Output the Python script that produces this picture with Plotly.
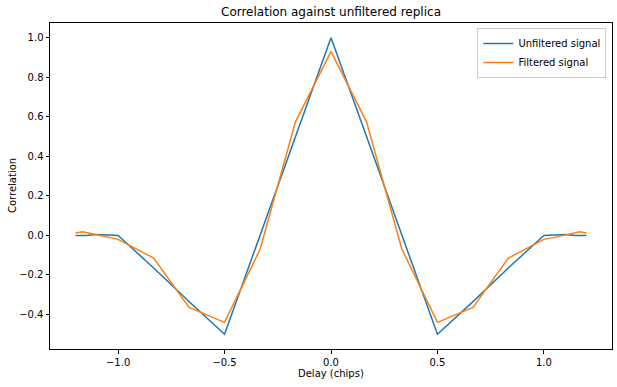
import plotly.graph_objects as go

# Delay grid (chips) and correlation values
delay_unf = [-1.2, -1.15, -1.1, -1.05, -1.0, -0.833, -0.667, -0.5, -0.333, -0.167, 0.0,
             0.167, 0.333, 0.5, 0.667, 0.833, 1.0, 1.05, 1.1, 1.15, 1.2]
corr_unf = [0.0, 0.0, 0.005, 0.003, 0.0, -0.165, -0.335, -0.5, 0.0, 0.5, 1.0,
            0.5, 0.0, -0.5, -0.335, -0.165, 0.0, 0.003, 0.005, 0.0, 0.0]

delay_filt = [-1.2, -1.167, -1.1, -1.05, -1.0, -0.833, -0.667, -0.5, -0.333, -0.167, 0.0,
              0.167, 0.333, 0.5, 0.667, 0.833, 1.0, 1.05, 1.1, 1.167, 1.2]
corr_filt = [0.012, 0.018, 0.003, -0.01, -0.02, -0.115, -0.365, -0.44, -0.07, 0.575, 0.93,
             0.575, -0.07, -0.44, -0.365, -0.115, -0.02, -0.01, 0.003, 0.018, 0.012]

x_ticks = [-1.0, -0.5, 0.0, 0.5, 1.0]
y_ticks = [-0.4, -0.2, 0.0, 0.2, 0.4, 0.6, 0.8, 1.0]

FONT = "DejaVu Sans"
W, H = 617, 387
L, R, T, B = 50, 5, 23, 38

fig = go.Figure()
fig.add_trace(go.Scatter(x=delay_unf, y=corr_unf, mode="lines", name="Unfiltered signal",
                         line=dict(color="#1f77b4", width=1.5)))
fig.add_trace(go.Scatter(x=delay_filt, y=corr_filt, mode="lines", name="Filtered signal",
                         line=dict(color="#ff7f0e", width=1.5)))

axis_common = dict(showgrid=False, zeroline=False, showline=True, mirror=True,
                   linecolor="black", linewidth=1, ticks="outside", ticklen=3.5,
                   tickcolor="black", tickwidth=1, automargin=False,
                   tickfont=dict(family=FONT, size=10, color="black"))

pw = W - L - R
ph = H - T - B

fig.update_layout(
    width=W, height=H,
    margin=dict(l=L, r=R, t=T, b=B, autoexpand=False),
    paper_bgcolor="white", plot_bgcolor="white",
    font=dict(family=FONT, size=10, color="black"),
    title=dict(text="Correlation against unfiltered replica", x=0.5, xref="paper",
               xanchor="center", y=1 - 12 / H, yref="container", yanchor="middle",
               automargin=False,
               font=dict(family=FONT, size=12, color="black")),
    xaxis=dict(range=[-1.32, 1.32], tickvals=x_ticks, tickformat=".1f", **axis_common),
    yaxis=dict(range=[-0.575, 1.075], tickvals=y_ticks, tickformat=".1f", **axis_common),
    legend=dict(x=0.99, y=0.985, xanchor="right", yanchor="top",
                bordercolor="#cccccc", borderwidth=1, bgcolor="rgba(255,255,255,0.8)",
                font=dict(family=FONT, size=10, color="black"),
                tracegroupgap=0),
    showlegend=True,
    annotations=[
        dict(text="Delay (chips)", xref="paper", yref="paper", x=0.5,
             y=-(373 - (H - B)) / ph, xanchor="center", yanchor="middle",
             showarrow=False, font=dict(family=FONT, size=10, color="black")),
        dict(text="Correlation", xref="paper", yref="paper", x=-(L - 12) / pw,
             y=0.5, xanchor="center", yanchor="middle", textangle=-90,
             showarrow=False, font=dict(family=FONT, size=10, color="black")),
    ],
)

fig.write_html("out.html", config={"displayModeBar": False},
               post_script="document.body.style.margin='0';document.body.style.padding='0';")
